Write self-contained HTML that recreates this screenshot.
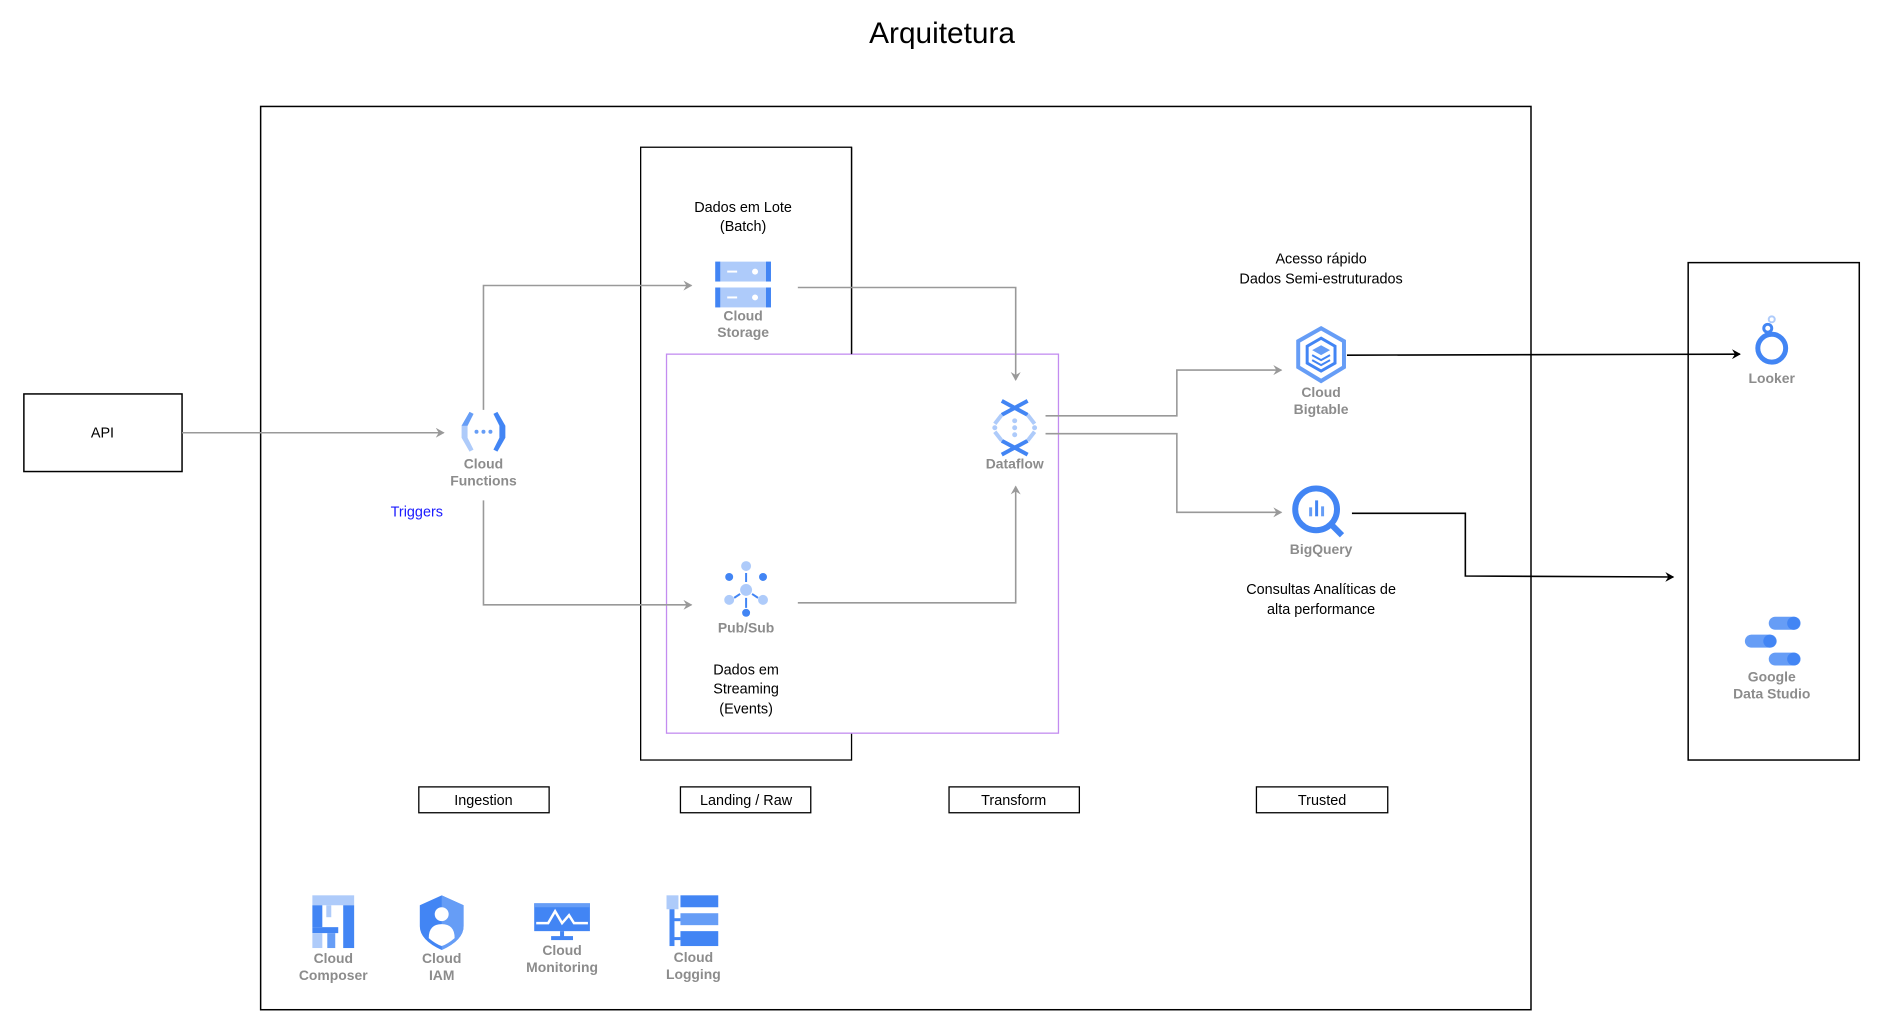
<!DOCTYPE html>
<html><head><meta charset="utf-8"><style>
html,body{margin:0;padding:0;background:#fff;}
svg{display:block;font-family:"Liberation Sans",sans-serif;}
.t{font-size:14.5px;fill:#000;text-anchor:middle;}
.g{font-size:14px;fill:#8c8c8c;font-weight:bold;text-anchor:middle;}
.gl{stroke:#999;stroke-width:1.6;fill:none;}
.bl{stroke:#000;stroke-width:1.6;fill:none;}
</style></head><body>
<svg width="1889" height="1026" viewBox="0 0 1889 1026" xmlns="http://www.w3.org/2000/svg">
<defs>
<marker id="ag" markerWidth="10" markerHeight="10" refX="8" refY="5" orient="auto" markerUnits="userSpaceOnUse"><path d="M0,0 L9,5 L0,10 L3,5 Z" fill="#999"/></marker>
<marker id="ab" markerWidth="10" markerHeight="10" refX="8" refY="5" orient="auto" markerUnits="userSpaceOnUse"><path d="M0,0 L9,5 L0,10 L3,5 Z" fill="#000"/></marker>
</defs>
<g transform="scale(0.9948)">
<text x="947" y="43" font-size="30" text-anchor="middle" fill="#000">Arquitetura</text>
<rect x="262" y="107" width="1277" height="908" fill="none" stroke="#000" stroke-width="1.5"/>
<rect x="24" y="396" width="159" height="78" fill="none" stroke="#000" stroke-width="1.5"/>
<text x="103" y="440" class="t">API</text>
<rect x="644" y="148" width="212" height="616" fill="none" stroke="#000" stroke-width="1.3"/>
<rect x="670" y="356" width="394" height="381" fill="#fff" stroke="#c38cf0" stroke-width="1.3"/>
<line x1="856" y1="148" x2="856" y2="356" stroke="#000" stroke-width="1.3"/>
<rect x="1697" y="264" width="172" height="500" fill="none" stroke="#000" stroke-width="1.5"/>
<g fill="none" stroke="#000" stroke-width="1.3">
<rect x="421" y="791" width="131" height="26"/><rect x="684" y="791" width="131" height="26"/>
<rect x="954" y="791" width="131" height="26"/><rect x="1263" y="791" width="132" height="26"/>
</g>
<text x="486" y="809" class="t">Ingestion</text><text x="750" y="809" class="t">Landing / Raw</text>
<text x="1019" y="809" class="t">Transform</text><text x="1329" y="809" class="t">Trusted</text>
<path class="gl" d="M183,435 H446" marker-end="url(#ag)"/>
<path class="gl" d="M486,412 V287 H695" marker-end="url(#ag)"/>
<path class="gl" d="M486,503 V608 H695" marker-end="url(#ag)"/>
<path class="gl" d="M802,289 H1021 V382" marker-end="url(#ag)"/>
<path class="gl" d="M802,606 H1021 V489" marker-end="url(#ag)"/>
<path class="gl" d="M1051,418 H1183 V372 H1288" marker-end="url(#ag)"/>
<path class="gl" d="M1051,436 H1183 V515 H1288" marker-end="url(#ag)"/>
<path class="bl" d="M1354,357 L1749,356" marker-end="url(#ab)"/>
<path class="bl" d="M1359,516 H1473 V579 L1682,580" marker-end="url(#ab)"/>
<text x="747" y="213" class="t">Dados em Lote</text><text x="747" y="232" class="t">(Batch)</text>
<text x="750" y="678" class="t">Dados em</text><text x="750" y="697" class="t">Streaming</text><text x="750" y="717" class="t">(Events)</text>
<text x="1328" y="265" class="t">Acesso rápido</text><text x="1328" y="285" class="t">Dados Semi-estruturados</text>
<text x="1328" y="597" class="t">Consultas Analíticas de</text><text x="1328" y="617" class="t">alta performance</text>
<text x="419" y="519" font-size="14.5" fill="#1a1aff" text-anchor="middle">Triggers</text>
<g transform="translate(486,434)">
<path d="M-14,-20 L-22,-6 L-22,6 L-14,20 L-10,18 L-16,6 L-16,-6 L-10,-18Z" fill="#aecbfa"/>
<path d="M-14,-20 L-22,-6 L-16,-6 L-10,-18Z" fill="#669df6"/>
<path d="M14,-20 L22,-6 L22,6 L14,20 L10,18 L16,6 L16,-6 L10,-18Z" fill="#4285f4"/>
<circle cx="-7" cy="0" r="2" fill="#669df6"/><circle cx="0" cy="0" r="2" fill="#669df6"/><circle cx="7" cy="0" r="2" fill="#669df6"/>
</g>
<text x="486" y="471" class="g">Cloud</text><text x="486" y="488" class="g">Functions</text>
<g transform="translate(747,287)">
<rect x="-28" y="-24" width="56" height="20" fill="#aecbfa"/><rect x="-28" y="-24" width="5" height="20" fill="#4285f4"/><rect x="23" y="-24" width="5" height="20" fill="#4285f4"/>
<rect x="-28" y="2" width="56" height="20" fill="#aecbfa"/><rect x="-28" y="2" width="5" height="20" fill="#4285f4"/><rect x="23" y="2" width="5" height="20" fill="#4285f4"/>
<rect x="-16" y="-15" width="10" height="2" fill="#fff"/><circle cx="12" cy="-14" r="3" fill="#fff"/>
<rect x="-16" y="11" width="10" height="2" fill="#fff"/><circle cx="12" cy="12" r="3" fill="#fff"/>
</g>
<text x="747" y="322" class="g">Cloud</text><text x="747" y="339" class="g">Storage</text>
<g transform="translate(1020,430)" fill="none">
<path d="M-13,-27 L13,-13 M13,-27 L-13,-13 M-13,27 L13,13 M13,27 L-13,13" stroke="#4285f4" stroke-width="4"/>
<path d="M-13,-13 L-20,-4 M13,-13 L20,-4 M-13,13 L-20,4 M13,13 L20,4" stroke="#aecbfa" stroke-width="4"/>
<circle cx="0" cy="-7" r="2.5" fill="#aecbfa"/><circle cx="0" cy="0" r="2.5" fill="#aecbfa"/><circle cx="0" cy="7" r="2.5" fill="#aecbfa"/>
<circle cx="-20" cy="0" r="2.5" fill="#aecbfa"/><circle cx="20" cy="0" r="2.5" fill="#aecbfa"/>
</g>
<text x="1020" y="471" class="g">Dataflow</text>
<g transform="translate(750,593)">
<circle cx="0" cy="-24" r="5" fill="#aecbfa"/><circle cx="-17" cy="-13" r="4" fill="#4285f4"/><circle cx="17" cy="-13" r="4" fill="#4285f4"/>
<circle cx="0" cy="0" r="6" fill="#aecbfa"/><circle cx="-17" cy="10" r="5" fill="#aecbfa"/><circle cx="17" cy="10" r="5" fill="#aecbfa"/>
<circle cx="0" cy="23" r="4" fill="#4285f4"/>
<path d="M0,-17 V-8 M0,8 V18 M-6,4 L-12,8 M6,4 L12,8" stroke="#4285f4" stroke-width="2"/>
</g>
<text x="750" y="636" class="g">Pub/Sub</text>
<g transform="translate(1328,357)">
<path d="M0,-27 L23,-14 L23,12 L0,26 L-23,12 L-23,-14Z" fill="none" stroke="#669df6" stroke-width="4"/>
<path d="M0,-17 L14,-9 L14,8 L0,16 L-14,8 L-14,-9Z" fill="none" stroke="#4285f4" stroke-width="3"/>
<path d="M0,-10 L9,-5 L0,0 L-9,-5Z" fill="#669df6"/><path d="M-9,0 L0,5 L9,0 M-9,5 L0,10 L9,5" fill="none" stroke="#4285f4" stroke-width="2"/>
</g>
<text x="1328" y="399" class="g">Cloud</text><text x="1328" y="416" class="g">Bigtable</text>
<g transform="translate(1323,512)">
<circle cx="0" cy="0" r="21" fill="none" stroke="#4285f4" stroke-width="6"/>
<circle cx="0" cy="0" r="15" fill="#fff"/>
<rect x="-7" y="-2" width="3" height="9" fill="#669df6"/><rect x="-1" y="-9" width="3" height="16" fill="#4285f4"/><rect x="5" y="-3" width="3" height="10" fill="#669df6"/>
<path d="M15,15 L26,26" stroke="#4285f4" stroke-width="6"/>
</g>
<text x="1328" y="557" class="g">BigQuery</text>
<g transform="translate(1781,350)">
<circle cx="0" cy="0" r="14" fill="none" stroke="#4285f4" stroke-width="5"/>
<circle cx="-4" cy="-20" r="4" fill="none" stroke="#4285f4" stroke-width="3"/>
<circle cx="0" cy="-29" r="3" fill="none" stroke="#aecbfa" stroke-width="2"/>
</g>
<text x="1781" y="385" class="g">Looker</text>
<g transform="translate(1781,647)">
<rect x="-3" y="-27" width="32" height="13" rx="6.5" fill="#669df6"/><circle cx="22" cy="-20.5" r="6.5" fill="#4285f4"/>
<rect x="-27" y="-9" width="32" height="13" rx="6.5" fill="#669df6"/><circle cx="-2" cy="-2.5" r="6.5" fill="#4285f4"/>
<rect x="-3" y="9" width="32" height="13" rx="6.5" fill="#669df6"/><circle cx="22" cy="15.5" r="6.5" fill="#4285f4"/>
</g>
<text x="1781" y="685" class="g">Google</text><text x="1781" y="702" class="g">Data Studio</text>
<g transform="translate(335,928)">
<rect x="-21" y="-28" width="42" height="10" fill="#aecbfa"/><rect x="-7" y="-18" width="5" height="12" fill="#aecbfa"/>
<rect x="-21" y="-18" width="10" height="22" fill="#4285f4"/><rect x="-21" y="4" width="26" height="6" fill="#4285f4"/>
<rect x="-6" y="10" width="8" height="15" fill="#669df6"/><rect x="-21" y="10" width="10" height="15" fill="#aecbfa"/>
<rect x="10" y="-18" width="11" height="43" fill="#4285f4"/>
</g>
<text x="335" y="968" class="g">Cloud</text><text x="335" y="985" class="g">Composer</text>
<g transform="translate(444,927)">
<path d="M0,-27 L22,-17 L22,4 Q22,18 0,28 Q-22,18 -22,4 L-22,-17Z" fill="#4285f4"/>
<path d="M0,-27 L22,-17 L22,4 Q22,18 0,28Z" fill="#669df6"/>
<circle cx="0" cy="-8" r="7" fill="#fff"/><path d="M-13,16 Q-13,2 0,2 Q13,2 13,16 Q6,22 0,24 Q-6,22 -13,16Z" fill="#fff"/>
</g>
<text x="444" y="968" class="g">Cloud</text><text x="444" y="985" class="g">IAM</text>
<g transform="translate(565,922)">
<rect x="-28" y="-14" width="56" height="28" fill="#4285f4"/><rect x="-28" y="-14" width="56" height="4" fill="#669df6"/>
<path d="M-26,6 L-14,6 L-7,-6 L0,6 L7,-2 L12,6 L26,6" fill="none" stroke="#fff" stroke-width="2.5"/>
<rect x="-2" y="14" width="4" height="6" fill="#4285f4"/><rect x="-11" y="19" width="22" height="4" fill="#4285f4"/>
</g>
<text x="565" y="960" class="g">Cloud</text><text x="565" y="977" class="g">Monitoring</text>
<g transform="translate(697,927)">
<rect x="-27" y="-27" width="12" height="14" fill="#aecbfa"/><rect x="-24" y="-13" width="5" height="37" fill="#4285f4"/>
<rect x="-13" y="-27" width="38" height="12" fill="#4285f4"/><rect x="-13" y="-9" width="38" height="12" fill="#669df6"/>
<rect x="-13" y="9" width="38" height="15" fill="#4285f4"/><rect x="-19" y="-4" width="6" height="3" fill="#4285f4"/><rect x="-19" y="15" width="6" height="3" fill="#4285f4"/>
</g>
<text x="697" y="967" class="g">Cloud</text><text x="697" y="984" class="g">Logging</text>
</g>
</svg>
</body></html>
